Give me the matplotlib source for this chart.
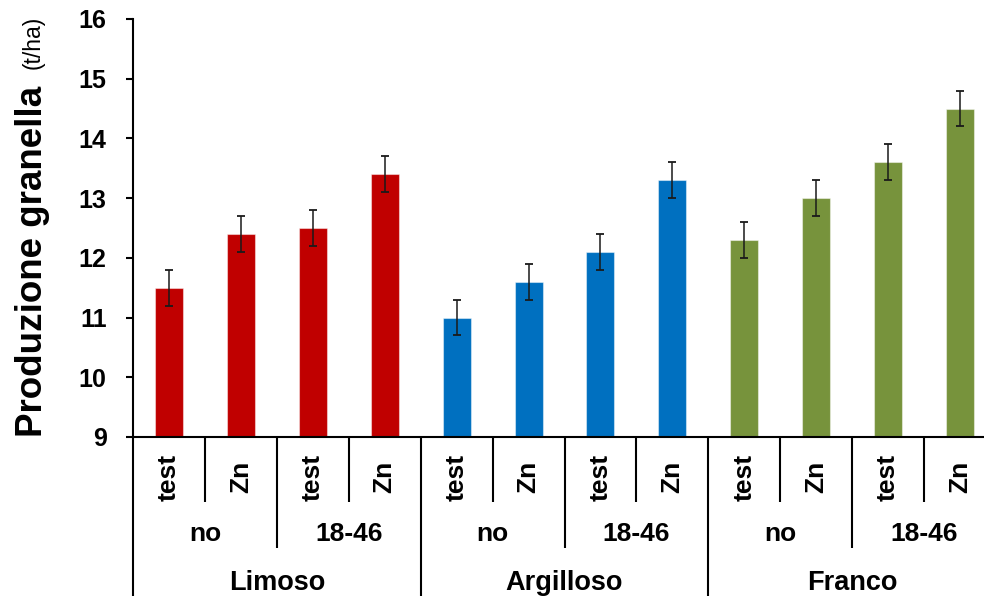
import matplotlib
matplotlib.use("Agg")
import matplotlib.pyplot as plt
import matplotlib.transforms as mtransforms
import numpy as np

plt.rcParams['font.family'] = ['Liberation Sans', 'DejaVu Sans']

# yield data: soil -> fertiliser -> treatment
soils = ["Limoso", "Argilloso", "Franco"]
fertilizers = ["no", "18-46"]
treatments = ["test", "Zn"]
limoso = [11.5, 12.4, 12.5, 13.4]
argilloso = [11.0, 11.6, 12.1, 13.3]
franco = [12.3, 13.0, 13.6, 14.5]
limoso_err = [0.3, 0.3, 0.3, 0.3]
argilloso_err = [0.3, 0.3, 0.3, 0.3]
franco_err = [0.3, 0.3, 0.3, 0.3]
soil_colors = ["#C00000", "#0070C0", "#77933C"]

values = [limoso, argilloso, franco]
errors = [limoso_err, argilloso_err, franco_err]

fig = plt.figure(figsize=(9.84, 5.96), dpi=100)
W, H = 984, 596
ax = fig.add_axes([133 / W, (H - 437) / H, (996 - 133) / W, (437 - 19) / H])

n_per = len(fertilizers) * len(treatments)
for s in range(len(soils)):
    x = np.arange(n_per) + s * n_per
    ax.bar(x, np.array(values[s]) - 9, bottom=9, width=0.39,
           color=soil_colors[s], edgecolor=(1, 1, 1, 0.45), linewidth=0.8,
           zorder=2)
    ax.errorbar(x, values[s], yerr=errors[s], fmt="none", ecolor="#1a1a1a",
                elinewidth=1.1, capsize=3.2, capthick=1.3, zorder=3)

n = len(soils) * n_per
ax.set_xlim(-0.5, n - 0.5)
ax.set_ylim(9, 16)
ax.set_yticks(np.arange(9, 17, 1))
ax.set_xticks([])
for lab in ax.get_yticklabels():
    lab.set_fontweight("bold")
ax.tick_params(axis="y", direction="out", length=5, width=1.5,
               labelsize=18, pad=14)
for side in ["top", "right"]:
    ax.spines[side].set_visible(False)
ax.spines["left"].set_linewidth(1.5)
ax.spines["bottom"].set_linewidth(1.5)

# multi-level category axis below the bars
tr = mtransforms.blended_transform_factory(ax.transData, ax.transAxes)
y_short, y_mid, y_full = -0.156, -0.266, -0.45
for k in range(n + 1):
    xb = k - 0.5
    if k % n_per == 0:
        y_end = y_full
    elif k % len(treatments) == 0:
        y_end = y_mid
    else:
        y_end = y_short
    ax.plot([xb, xb], [0, y_end], transform=tr, color="black", lw=1.5,
            clip_on=False, solid_capstyle="butt")

for k in range(n):
    ax.text(k, -0.096, treatments[k % len(treatments)], transform=tr,
            rotation=90, ha="center", va="center", fontsize=19,
            fontweight="bold")
for k in range(n // len(treatments)):
    xc = k * len(treatments) + (len(treatments) - 1) / 2
    ax.text(xc, -0.232, fertilizers[k % len(fertilizers)], transform=tr,
            ha="center", va="center", fontsize=19, fontweight="bold")
for s, name in enumerate(soils):
    xc = s * n_per + (n_per - 1) / 2
    ax.text(xc, -0.349, name, transform=tr, ha="center", va="center",
            fontsize=19.5, fontweight="bold")

# y-axis title in two sizes
fig.text(42 / W, (H - 437) / H, "Produzione granella", rotation=90,
         rotation_mode="anchor", ha="left", va="baseline", fontsize=26.5,
         fontweight="bold")
fig.text(40 / W, (H - 69) / H, "(t/ha)", rotation=90,
         rotation_mode="anchor", ha="left", va="baseline", fontsize=16.5)

fig.savefig("out.png", dpi=100)
